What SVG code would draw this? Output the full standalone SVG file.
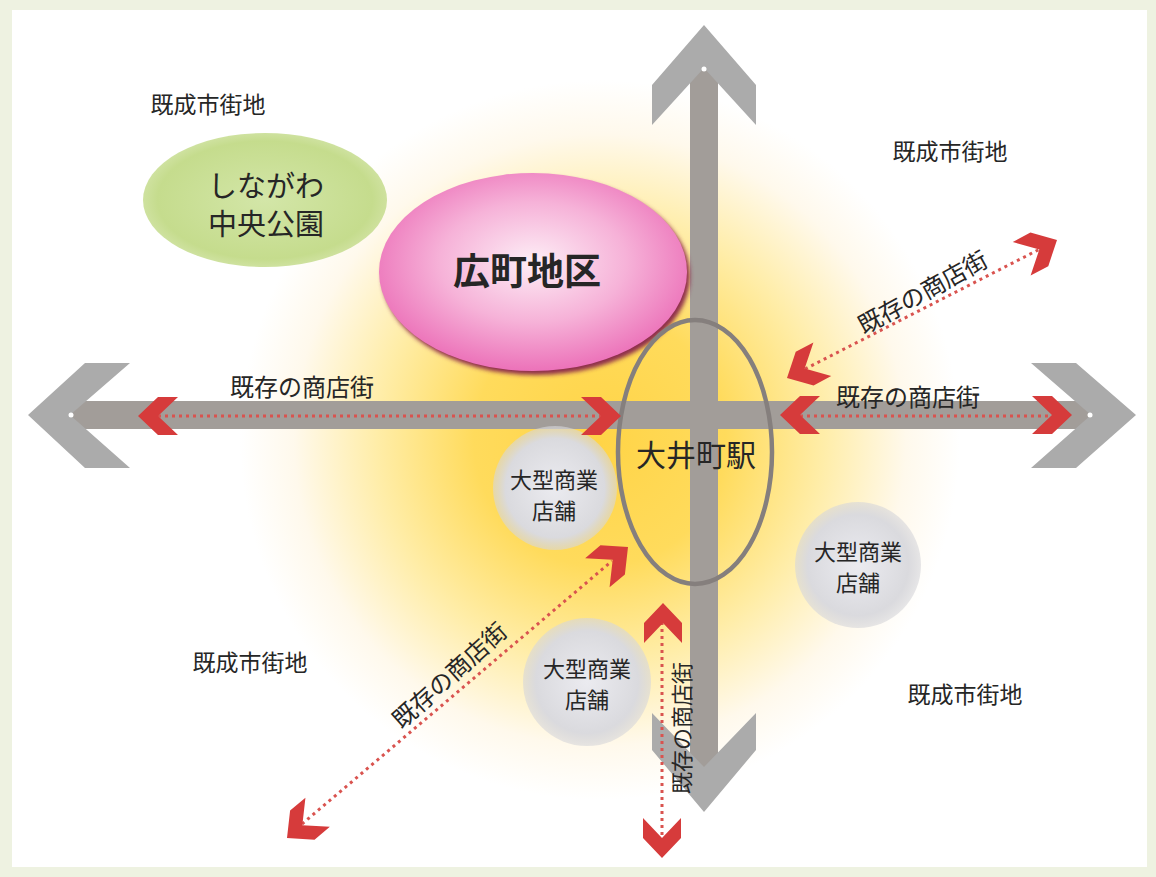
<svg xmlns="http://www.w3.org/2000/svg" width="1156" height="877" viewBox="0 0 1156 877">
<defs>
<style>
.t{font-family:"Noto Sans CJK JP","Noto Sans",sans-serif;fill:#262626;text-anchor:middle}
.lbl{font-size:23px}
.st{font-size:22px}
.dot{fill:none;stroke:#d9534f;stroke-width:3;stroke-dasharray:3 4}
.road{fill:#a29d99}
.chev{fill:#ababab}
.red{fill:#d63b3b}
</style>
<radialGradient id="glow" cx="600" cy="440" r="360" gradientUnits="userSpaceOnUse">
<stop offset="0" stop-color="#ffd447"/>
<stop offset="0.35" stop-color="#ffdb5c"/>
<stop offset="0.62" stop-color="#ffeda8"/>
<stop offset="0.85" stop-color="#fff9ec"/>
<stop offset="1" stop-color="#ffffff"/>
</radialGradient>
<radialGradient id="pink" cx="0.5" cy="0.45" r="0.55">
<stop offset="0" stop-color="#fdeef6"/>
<stop offset="0.55" stop-color="#f6b2d8"/>
<stop offset="1" stop-color="#ec72b9"/>
</radialGradient>
<radialGradient id="green" cx="0.5" cy="0.5" r="0.55">
<stop offset="0" stop-color="#d3e6a8"/>
<stop offset="0.8" stop-color="#c5dc8d"/>
<stop offset="1" stop-color="#c5dc8d" stop-opacity="0.7"/>
</radialGradient>
<radialGradient id="gray" cx="0.5" cy="0.5" r="0.5">
<stop offset="0" stop-color="#ebebf0"/>
<stop offset="0.8" stop-color="#dadade"/>
<stop offset="1" stop-color="#d6d6da" stop-opacity="0.6"/>
</radialGradient>
<filter id="blur" x="-10%" y="-10%" width="120%" height="120%"><feGaussianBlur stdDeviation="2"/></filter>
<polygon id="rc" points="0,0 -20,-19 -40,-19 -20,0 -40,19 -20,19"/>
</defs>

<g id="background">
<rect x="0" y="0" width="1156" height="877" fill="#eef2e1"/>
<rect x="12" y="10" width="1135" height="857" fill="#ffffff"/>
<rect x="12" y="10" width="1135" height="857" fill="url(#glow)"/>
</g>

<g id="park">
<ellipse cx="265" cy="200" rx="122" ry="67" fill="url(#green)"/>
<text class="t" x="266" y="197" font-size="29">しながわ</text>
<text class="t" x="266" y="235" font-size="29">中央公園</text>
</g>

<g id="roads">
<rect class="road" x="690" y="66" width="28" height="703"/>
<rect class="road" x="68" y="401" width="1025" height="28"/>
<polygon class="chev" points="704,25 756,85 756,125 704,68 652,125 652,85"/>
<polygon class="chev" points="652,713 704,767 756,713 756,750 704,812 652,750"/>
<polygon class="chev" points="28,415 85,363 130,363 70,415 130,468 85,468"/>
<polygon class="chev" points="1136,415 1076,363 1031,363 1091,415 1031,468 1076,468"/>
<circle cx="704" cy="69" r="2.5" fill="#ffffff"/>
<circle cx="71" cy="415" r="2.5" fill="#ffffff"/>
<circle cx="1090" cy="415" r="2.5" fill="#ffffff"/>
</g>

<g id="hiromachi">
<ellipse cx="536" cy="276" rx="154" ry="99" fill="#8e2f4c" filter="url(#blur)"/>
<ellipse cx="533" cy="272" rx="154" ry="99" fill="url(#pink)"/>
<text class="t" x="527" y="285" font-size="37" font-weight="bold" fill="#1a1a1a">広町地区</text>
</g>

<g id="store1">
<circle cx="555" cy="488" r="62" fill="url(#gray)"/>
<text class="t st" x="554" y="488">大型商業</text>
<text class="t st" x="554" y="519">店舗</text>
</g>
<g id="store2">
<circle cx="858" cy="565" r="63" fill="url(#gray)"/>
<text class="t st" x="858" y="560">大型商業</text>
<text class="t st" x="858" y="591">店舗</text>
</g>
<g id="store3">
<circle cx="587" cy="682" r="64" fill="url(#gray)"/>
<text class="t st" x="587" y="677">大型商業</text>
<text class="t st" x="587" y="708">店舗</text>
</g>

<g id="station">
<ellipse cx="695" cy="452" rx="77" ry="132" fill="none" stroke="#857f7d" stroke-width="4.5"/>
<text class="t" x="696" y="466" font-size="30">大井町駅</text>
</g>

<g id="connectors">
<line class="dot" x1="158" y1="416" x2="602" y2="416"/>
<line class="dot" x1="800" y1="416" x2="1052" y2="416"/>
<line class="dot" x1="805" y1="369" x2="1040" y2="249"/>
<line class="dot" x1="302" y1="824" x2="612" y2="561"/>
<line class="dot" x1="662" y1="622" x2="662" y2="840"/>
<use href="#rc" class="red" transform="translate(138,416) rotate(180)"/>
<use href="#rc" class="red" transform="translate(621,416)"/>
<use href="#rc" class="red" transform="translate(780,415) rotate(180)"/>
<use href="#rc" class="red" transform="translate(1072,415)"/>
<use href="#rc" class="red" transform="translate(1057,240) rotate(-28)"/>
<use href="#rc" class="red" transform="translate(787,378) rotate(152)"/>
<use href="#rc" class="red" transform="translate(628,547) rotate(-40)"/>
<use href="#rc" class="red" transform="translate(287,838) rotate(140)"/>
<use href="#rc" class="red" transform="translate(663,603) rotate(-90)"/>
<use href="#rc" class="red" transform="translate(662,858) rotate(90)"/>
</g>

<g id="labels">
<text class="t lbl" x="208" y="113">既成市街地</text>
<text class="t lbl" x="950" y="160">既成市街地</text>
<text class="t lbl" x="250" y="671">既成市街地</text>
<text class="t lbl" x="965" y="703">既成市街地</text>
<text class="t" font-size="24" x="302" y="396">既存の商店街</text>
<text class="t" font-size="24" x="908" y="406">既存の商店街</text>
<text class="t" font-size="24" transform="translate(923,293) rotate(-29)" x="0" y="8">既存の商店街</text>
<text class="t" font-size="24" transform="translate(450,676) rotate(-42)" x="0" y="8">既存の商店街</text>
<text class="t" font-size="22" transform="translate(682,728) rotate(-90)" x="0" y="8">既存の商店街</text>
</g>
</svg>
